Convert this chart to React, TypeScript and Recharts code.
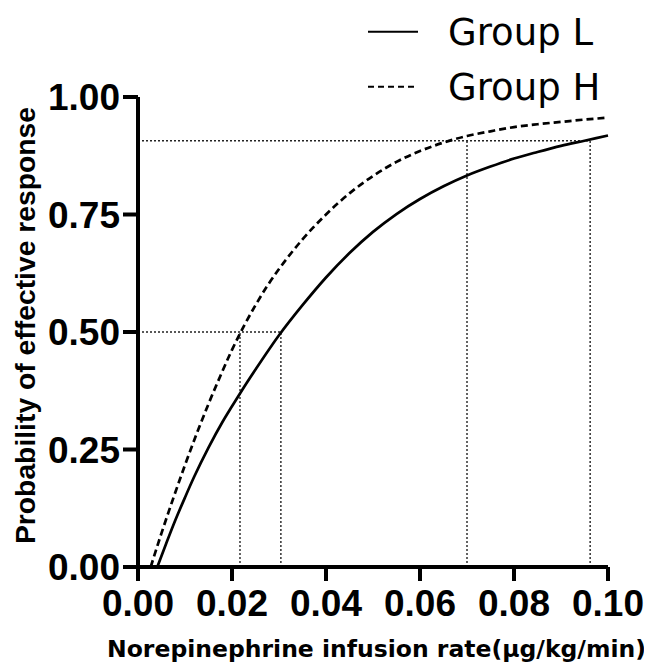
import React from 'react';
import { LineChart, Line, XAxis, YAxis, ReferenceLine, Legend, Label } from 'recharts';

// Group L (solid)
const groupLX = [0.0041, 0.006, 0.008, 0.010, 0.012, 0.015, 0.018, 0.020, 0.022, 0.025, 0.030, 0.035, 0.040, 0.045, 0.050, 0.055, 0.060, 0.065, 0.070, 0.075, 0.080, 0.085, 0.090, 0.095, 0.100];
const groupLY = [0, 0.050, 0.101, 0.148, 0.193, 0.254, 0.309, 0.342, 0.374, 0.420, 0.493, 0.557, 0.616, 0.668, 0.713, 0.751, 0.783, 0.810, 0.833, 0.852, 0.869, 0.883, 0.896, 0.907, 0.918];

// Group H (dashed)
const groupHX = [0.0027, 0.005, 0.0075, 0.010, 0.0125, 0.015, 0.0175, 0.020, 0.0225, 0.025, 0.0275, 0.030, 0.035, 0.040, 0.045, 0.050, 0.055, 0.060, 0.065, 0.070, 0.075, 0.080, 0.085, 0.090, 0.095, 0.100];
const groupHY = [0, 0.072, 0.146, 0.217, 0.284, 0.347, 0.406, 0.462, 0.512, 0.557, 0.598, 0.634, 0.697, 0.750, 0.795, 0.832, 0.862, 0.885, 0.903, 0.917, 0.927, 0.936, 0.942, 0.947, 0.952, 0.956];

const xTicks = [0, 0.02, 0.04, 0.06, 0.08, 0.1];
const yTicks = [0, 0.25, 0.5, 0.75, 1];

// Reference (dotted) lines: ED50 and ED90 for H and L
const ed50 = [0.0217, 0.0304];
const ed90 = [0.0700, 0.0962];
const levels = [0.5, 0.907];

const seriesNames = ['Group L', 'Group H'];
const xLabel = 'Norepinephrine infusion rate(μg/kg/min)';
const yLabel = 'Probability of effective response';

const lData = groupLX.map((x, i) => ({ x, y: groupLY[i] }));
const hData = groupHX.map((x, i) => ({ x, y: groupHY[i] }));

const refGroups = [
  { level: levels[0], xs: ed50 },
  { level: levels[1], xs: ed90 },
];

const DOT = { stroke: '#222', strokeWidth: 1.4, strokeDasharray: '2 2' };
const TICK_FONT = { fill: '#000', fontSize: 37, fontWeight: 'bold' as const, fontFamily: '"Liberation Sans", Arial, sans-serif' };

const renderLegend = () => (
  <svg width={300} height={110} style={{ display: 'block' }}>
    <line x1={20} x2={70} y1={23.7} y2={23.7} stroke="#000" strokeWidth={2} />
    <text x={100} y={37} fontFamily='"DejaVu Sans", sans-serif' fontSize={37} fill="#000">{seriesNames[0]}</text>
    <line x1={20} x2={70} y1={78.7} y2={78.7} stroke="#000" strokeWidth={2} strokeDasharray="6 4" />
    <text x={100} y={92} fontFamily='"DejaVu Sans", sans-serif' fontSize={37} fill="#000">{seriesNames[1]}</text>
  </svg>
);

const renderXLabel = (props: any) => {
  const vb = props.viewBox || { x: 130, y: 559, width: 470, height: 95 };
  return (
    <text x={vb.x + vb.width / 2 + 3.5} y={vb.y + 89.7} textAnchor="middle" fontFamily='"DejaVu Sans", sans-serif' fontWeight="bold" fontSize={23.5} fill="#000">
      {xLabel}
    </text>
  );
};

const renderYLabel = (props: any) => {
  const vb = props.viewBox || { x: 0, y: 89, width: 130, height: 470 };
  const cx = vb.x + 27;
  const cy = vb.y + vb.height / 2 - 6.5;
  return (
    <text x={cx} y={cy} transform={`rotate(-90, ${cx}, ${cy})`} textAnchor="middle" fontFamily='"Liberation Sans", Arial, sans-serif' fontWeight="bold" fontSize={28.3} fill="#000">
      {yLabel}
    </text>
  );
};

export default function App() {
  return (
    <div style={{ width: 644, height: 654 }}>
      <LineChart width={644} height={654} margin={{ top: 89, right: 44, bottom: 0, left: 0 }}>
        <XAxis
          type="number"
          dataKey="x"
          domain={[0, 0.1]}
          ticks={xTicks}
          interval={0}
          height={95}
          tickSize={14}
          tickMargin={9}
          tickFormatter={(v: number) => v.toFixed(2)}
          axisLine={{ stroke: '#000', strokeWidth: 4 }}
          tickLine={{ stroke: '#000', strokeWidth: 4 }}
          tick={TICK_FONT}
        >
          <Label content={renderXLabel} />
        </XAxis>
        <YAxis
          type="number"
          domain={[0, 1]}
          ticks={yTicks}
          interval={0}
          width={130}
          tickSize={15}
          tickMargin={3}
          tickFormatter={(v: number) => v.toFixed(2)}
          axisLine={{ stroke: '#000', strokeWidth: 4 }}
          tickLine={{ stroke: '#000', strokeWidth: 4 }}
          tick={TICK_FONT}
        >
          <Label content={renderYLabel} />
        </YAxis>
        <Legend
          layout="vertical"
          align="center"
          verticalAlign="middle"
          content={renderLegend}
          wrapperStyle={{ position: 'absolute', top: 0, left: 340, width: 300, height: 110 }}
        />
        {refGroups.map((g, gi) => (
          <ReferenceLine
            key={`h${gi}`}
            segment={[{ x: 0, y: g.level }, { x: Math.max(...g.xs), y: g.level }]}
            {...DOT}
            ifOverflow="extendDomain"
          />
        ))}
        {refGroups.flatMap((g, gi) =>
          g.xs.map((xv, xi) => (
            <ReferenceLine
              key={`v${gi}-${xi}`}
              segment={[{ x: xv, y: 0 }, { x: xv, y: g.level }]}
              {...DOT}
              ifOverflow="extendDomain"
            />
          ))
        )}
        <Line
          data={lData}
          dataKey="y"
          name={seriesNames[0]}
          type="monotone"
          stroke="#000"
          strokeWidth={2.7}
          dot={false}
          activeDot={false}
          isAnimationActive={false}
        />
        <Line
          data={hData}
          dataKey="y"
          name={seriesNames[1]}
          type="monotone"
          stroke="#000"
          strokeWidth={2.7}
          strokeDasharray="7 4"
          dot={false}
          activeDot={false}
          isAnimationActive={false}
        />
      </LineChart>
    </div>
  );
}
